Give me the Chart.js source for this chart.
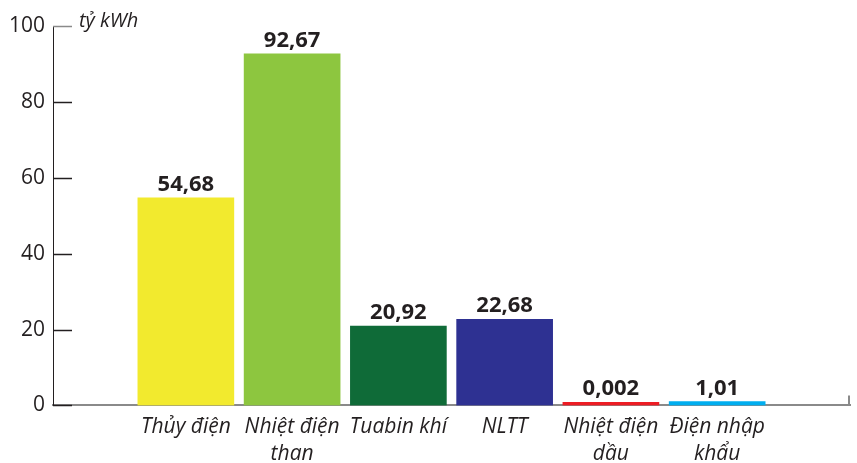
<!DOCTYPE html>
<html>
<head>
<meta charset="utf-8">
<script src="https://cdn.jsdelivr.net/npm/chart.js@4"></script>
<style>
  html, body { margin: 0; padding: 0; background: #fff; }
  #wrap { width: 857px; height: 463px; position: relative; }
</style>
</head>
<body>
<div id="wrap"><canvas id="chart"></canvas></div>
<script>
// data
const categories = [
  "Thủy điện",
  ["Nhiệt điện", "than"],
  "Tuabin khí",
  "NLTT",
  ["Nhiệt điện", "dầu"],
  ["Điện nhập", "khẩu"]
];
const values = [54.68, 92.67, 20.92, 22.68, 0.002, 1.01];
const valueLabels = ["54,68", "92,67", "20,92", "22,68", "0,002", "1,01"];
const barColors = ["#f2ea2e", "#8dc63f", "#0f6b38", "#2e3192", "#ed1c24", "#00aeef"];
const yTicks = [0, 20, 40, 60, 80, 100];
const unitLabel = "tỷ kWh";

const ink = "#231f20";
const axisGray = "#8a8a8a";

// value labels above each bar
const barValues = {
  id: "barValues",
  afterDatasetsDraw(chart) {
    const ctx = chart.ctx;
    const meta = chart.getDatasetMeta(0);
    ctx.save();
    ctx.font = "bold 22px 'Open Sans'";
    ctx.fillStyle = ink;
    ctx.textAlign = "center";
    ctx.textBaseline = "alphabetic";
    meta.data.forEach((bar, i) => {
      ctx.fillText(valueLabels[i], bar.x, bar.y - 7);
    });
    ctx.restore();
  }
};

// inward ticks on the y axis, the unit text and the little end tick on x
const axisExtras = {
  id: "axisExtras",
  afterDraw(chart) {
    const ctx = chart.ctx;
    const y = chart.scales.y;
    const area = chart.chartArea;
    ctx.save();
    ctx.lineWidth = 1.5;
    yTicks.forEach(v => {
      const py = Math.round(y.getPixelForValue(v)) + 0.5;
      ctx.strokeStyle = v === 100 ? axisGray : ink;
      ctx.beginPath();
      ctx.moveTo(area.left, py);
      ctx.lineTo(area.left + 19, py);
      ctx.stroke();
    });
    // end tick
    ctx.strokeStyle = axisGray;
    ctx.lineWidth = 2;
    ctx.beginPath();
    ctx.moveTo(area.right - 1, area.bottom);
    ctx.lineTo(area.right - 1, area.bottom - 10);
    ctx.stroke();
    // unit
    ctx.font = "italic 20px 'Open Sans'";
    ctx.fillStyle = ink;
    ctx.textAlign = "left";
    ctx.textBaseline = "middle";
    ctx.fillText(unitLabel, area.left + 26, y.getPixelForValue(100) - 5);
    ctx.restore();
  }
};

new Chart(document.getElementById("chart"), {
  type: "bar",
  data: {
    datasets: [{
      data: values.map((v, i) => ({ x: i, y: v })),
      backgroundColor: barColors,
      borderWidth: 0,
      barThickness: 96,
      minBarLength: 3
    }]
  },
  options: {
    responsive: true,
    maintainAspectRatio: false,
    animation: false,
    layout: {
      padding: { left: 1, right: 7, top: 26, bottom: -13 }
    },
    plugins: {
      legend: { display: false },
      tooltip: { enabled: false }
    },
    scales: {
      x: {
        type: "linear",
        min: -1.25,
        max: 6.25,
        offset: false,
        afterBuildTicks(scale) {
          scale.ticks = categories.map((c, i) => ({ value: i }));
        },
        grid: { display: false, drawTicks: false },
        border: { display: true, color: axisGray, width: 2 },
        ticks: {
          autoSkip: false,
          maxRotation: 0,
          padding: 8,
          color: ink,
          font: { family: "'Open Sans'", size: 21, style: "italic", lineHeight: 1.3 },
          callback: (v) => categories[v]
        }
      },
      y: {
        min: 0,
        max: 100,
        afterBuildTicks(scale) {
          scale.ticks = yTicks.map(v => ({ value: v }));
        },
        grid: { display: false, drawTicks: false },
        border: { display: true, color: ink, width: 1 },
        ticks: {
          padding: 8,
          color: ink,
          font: { family: "'Open Sans'", size: 21 }
        }
      }
    }
  },
  plugins: [barValues, axisExtras]
});
</script>
</body>
</html>
